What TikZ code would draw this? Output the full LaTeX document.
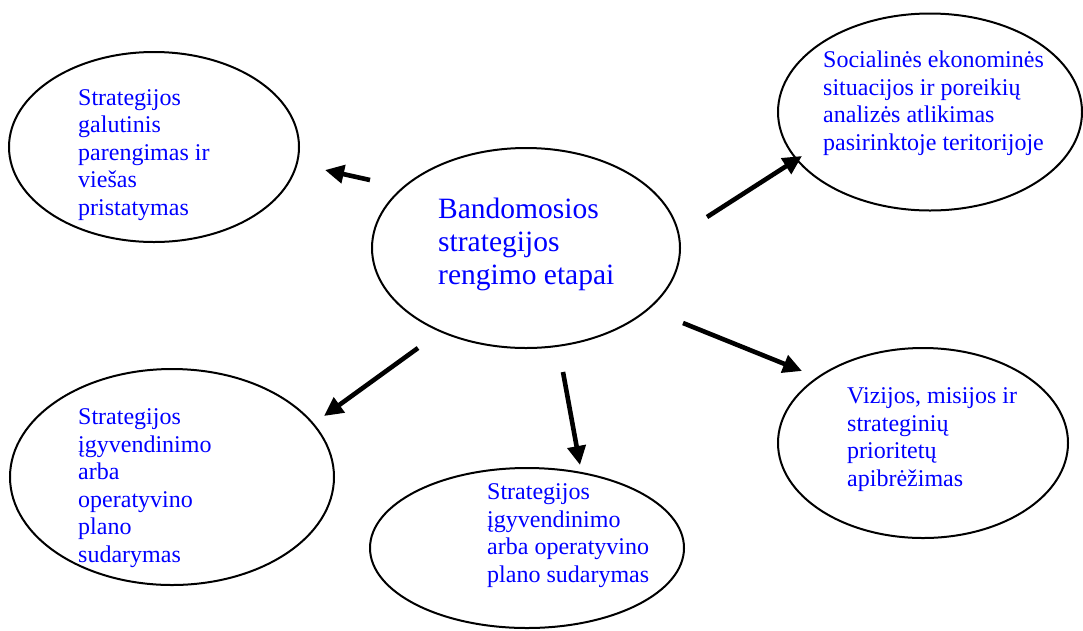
\documentclass[tikz,border=0pt]{standalone}
\usepackage{fontspec}
\setmainfont{Liberation Serif}
\usetikzlibrary{shapes.geometric,arrows.meta}
\definecolor{txtblue}{RGB}{0,0,255}
\tikzset{
  oval/.style={draw=black, line width=2pt, ellipse, inner sep=0pt},
  lbl/.style={anchor=base west, align=left, inner sep=0pt, text=txtblue,
              font=\fontsize{24}{27.5}\selectfont},
  biglbl/.style={lbl, font=\fontsize{29.5}{33}\selectfont},
  arr/.style={line width=4.6pt, -{Triangle[length=19pt,width=18pt]}}
}
\begin{document}
\begin{tikzpicture}[x=1pt,y=-1pt]
\useasboundingbox (0,0) rectangle (1083,630);
% ellipses
\node[oval, minimum width=290pt, minimum height=190pt] (tl) at (154,147) {};
\node[oval, minimum width=304pt, minimum height=197pt] (tr) at (930,112) {};
\node[oval, minimum width=308pt, minimum height=200pt] (c) at (526,248) {};
\node[oval, minimum width=324pt, minimum height=216pt] (bl) at (172,477) {};
\node[oval, minimum width=314pt, minimum height=160pt] (bc) at (527,548) {};
\node[oval, minimum width=290pt, minimum height=190pt] (br) at (923,443) {};
% texts (anchored at the baseline of the last line)
\node[lbl] (tltxt) at (78,215) {Strategijos\\galutinis\\parengimas ir\\viešas\\pristatymas};
\node[lbl] (trtxt) at (823,150) {Socialinės ekonominės\\situacijos ir poreikių\\analizės atlikimas\\pasirinktoje teritorijoje};
\node[biglbl] (ctxt) at (438,284) {Bandomosios\\strategijos\\rengimo etapai};
\node[lbl] (bltxt) at (78,562) {Strategijos\\įgyvendinimo\\arba\\operatyvino\\plano\\sudarymas};
\node[lbl] (bctxt) at (487,582) {Strategijos\\įgyvendinimo\\arba operatyvino\\plano sudarymas};
\node[lbl] (brtxt) at (847,486) {Vizijos, misijos ir\\strateginių\\prioritetų\\apibrėžimas};
% arrow end points
\coordinate (a1s) at (370,180); \coordinate (a1e) at (325,170);
\coordinate (a2s) at (707,217); \coordinate (a2e) at (802,156);
\coordinate (a3s) at (683,323); \coordinate (a3e) at (802,371);
\coordinate (a4s) at (563,372); \coordinate (a4e) at (580,465);
\coordinate (a5s) at (418,348); \coordinate (a5e) at (324,416);
\draw[arr] (a1s) -- (a1e);
\draw[arr] (a2s) -- (a2e);
\draw[arr] (a3s) -- (a3e);
\draw[arr] (a4s) -- (a4e);
\draw[arr] (a5s) -- (a5e);
\end{tikzpicture}
\end{document}
